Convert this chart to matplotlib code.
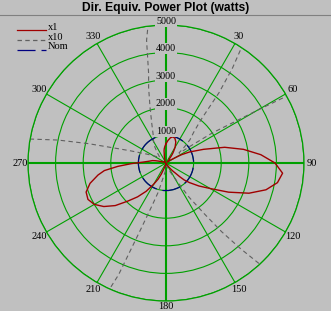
import numpy as np
import matplotlib
matplotlib.use("Agg")
import matplotlib.pyplot as plt
from matplotlib.lines import Line2D

# bearing in degrees (0 = north, clockwise) and x1 power in watts
angles = [0, 5, 10, 15, 20, 25, 30, 33, 35, 37, 39, 42, 46, 50, 52, 54, 55,
          57, 59, 60, 61, 62, 65, 70, 75, 80, 85, 90, 95, 100, 105, 110, 115,
          120, 125, 130, 133, 135, 137, 139, 141, 143, 146, 149, 155, 165, 175,
          185, 191, 195, 198, 201, 203, 206, 210, 215, 220, 225, 230, 235, 240,
          245, 250, 255, 260, 263, 266, 269, 272, 276, 280, 282, 284, 286, 289,
          295, 305, 310, 315, 320, 325, 330, 336, 340, 344, 347, 349, 351, 353,
          356, 360]
x1 = [700, 820, 930, 980, 950, 840, 660, 510, 420, 320, 200, 150, 120, 80, 60,
      60, 100, 200, 290, 380, 500, 650, 950, 1450, 2200, 2850, 3450, 3950, 4240,
      4100, 3750, 3200, 2500, 1850, 1450, 1100, 900, 700, 510, 410, 320, 230,
      150, 75, 35, 15, 10, 30, 55, 110, 160, 265, 440, 650, 880, 1250, 1600,
      1950, 2400, 2750, 3000, 3120, 3080, 2850, 2500, 2250, 1750, 1250, 850,
      620, 500, 400, 290, 200, 135, 76, 40, 30, 35, 50, 70, 90, 115, 150, 210,
      280, 330, 450, 520, 600, 700]
scale10 = 10
nom_level = 1000

ring_levels = [1000, 2000, 3000, 4000, 5000]
ring_labels = ["1000", "2000", "3000", "4000", "5000"]
spoke_angles = [30, 60, 90, 120, 150, 180, 210, 240, 270, 300, 330]
spoke_labels = ["30", "60", "90", "120", "150", "180", "210", "240", "270", "300", "330"]

BG = "#C0C0C0"
GREEN = "#00A000"
RED = "#A00000"
GRAY = "#606060"
NAVY = "#000080"
W, H = 331, 311

plt.rcParams["lines.scale_dashes"] = False
fig = plt.figure(figsize=(W / 100, H / 100), dpi=100, facecolor=BG)

def px(x, y):
    return x / W, 1 - y / H

# title + separator
fig.text(0.5, px(0, 10.5)[1], "Dir. Equiv. Power Plot (watts)", ha="center",
         va="baseline", fontsize=8.7, fontweight="bold", family="Liberation Sans")
fig.add_artist(Line2D([0, 1], [px(0, 14.5)[1]] * 2, color="#808080", lw=0.8,
                      transform=fig.transFigure))

ax = fig.add_axes([28 / W, 10 / H, 276 / W, 276 / H], projection="polar")
ax.set_facecolor(BG)
ax.set_theta_zero_location("N")
ax.set_theta_direction(-1)
ax.set_ylim(0, 5000)
ax.set_rgrids(ring_levels, labels=[""] * len(ring_levels))
ax.set_thetagrids(range(0, 360, 30), labels=[""] * 12)
ax.grid(True, color=GREEN, lw=0.8)
for i, gl in enumerate(ax.xaxis.get_gridlines()):
    if i % 3 == 0:
        gl.set_linewidth(1.5)
ax.spines["polar"].set_color(GREEN)
ax.spines["polar"].set_linewidth(0.9)

th = np.deg2rad(angles)
r1 = np.array(x1)
ax.plot(th, r1 * scale10, color=GRAY, lw=0.8, dashes=(3.2, 2.4))
ax.plot(th, [nom_level] * len(angles), color=NAVY, lw=0.9, dashes=(13, 4.3))
ax.plot(th, r1, color=RED, lw=1.0)

# ring labels along the 0 spoke
for lev, lab in zip(ring_levels, ring_labels):
    ax.text(0, lev + 140, lab, ha="center", va="center", fontsize=7.3,
            family="Liberation Serif", zorder=5,
            bbox=dict(facecolor=BG, edgecolor="none", pad=0.8))

# bearing labels outside the rim (180 pulled in a bit so it stays on the canvas)
for a, lab in zip(spoke_angles, spoke_labels):
    rr = 5200 if a == 180 else 5290
    ax.text(np.deg2rad(a), rr, lab, ha="center", va="center", fontsize=7.5,
            family="Liberation Serif", clip_on=False)

# hand drawn legend, top left
leg = [("x1", RED, None, 30), ("x10", GRAY, (3.2, 2.4), 40), ("Nom", NAVY, (13, 4.3), 49.5)]
for name, col, ds, yy in leg:
    ln = Line2D([px(17, 0)[0], px(46, 0)[0]], [px(0, yy)[1]] * 2, color=col,
                lw=0.9, transform=fig.transFigure)
    if ds:
        ln.set_dashes(ds)
    fig.add_artist(ln)
    fig.text(px(47.5, 0)[0], px(0, yy - 0.5)[1], name, ha="left", va="baseline",
             fontsize=7.5, family="Liberation Serif")

fig.savefig("out.png", dpi=100, facecolor=BG)
